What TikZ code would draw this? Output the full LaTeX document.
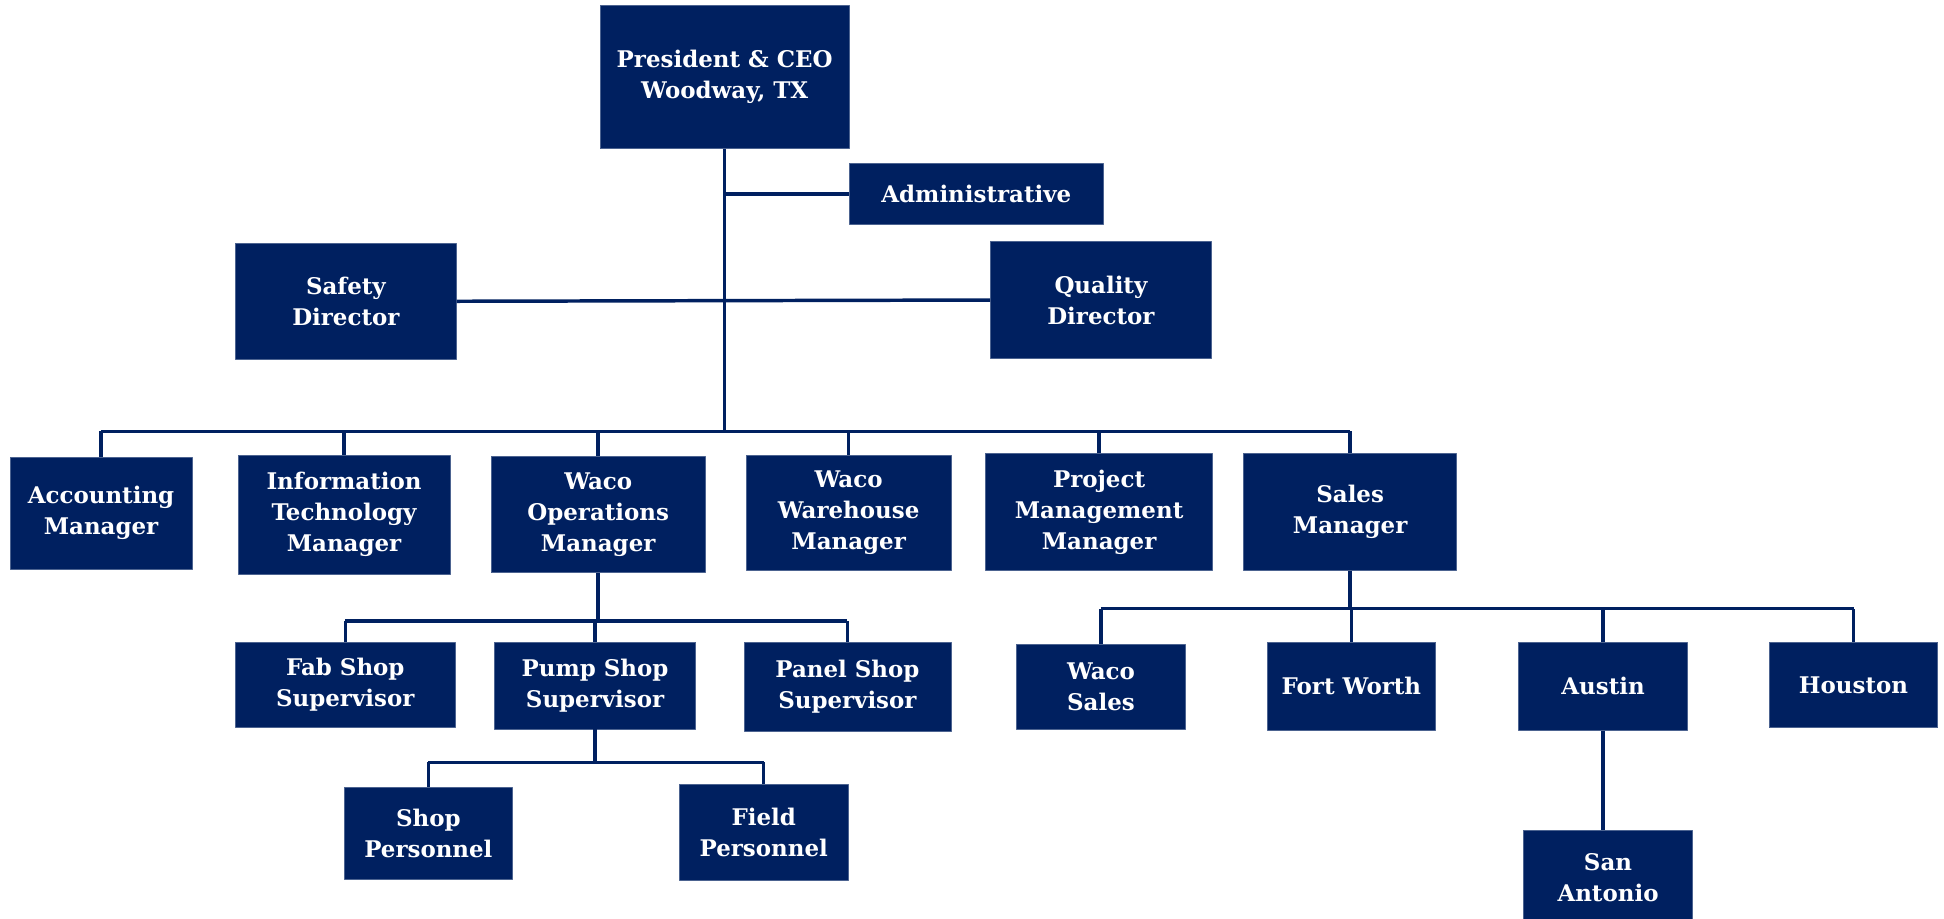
\documentclass[tikz,border=0pt]{standalone}
\usepackage{fontspec}
\setmainfont{DejaVu Serif}
\definecolor{navy}{HTML}{002060}
\tikzset{
  unit/.style={fill=navy, draw=navy!70!white, line width=0.6pt, text=white, align=center,
    inner sep=0pt, font=\fontsize{18.5}{25}\selectfont\bfseries},
  link/.style={draw=navy, line width=2.8pt}
}
\begin{document}
\begin{tikzpicture}[x=1pt, y=-1pt, line join=round]
    \useasboundingbox (0,0) rectangle (1568,741);
    % top
    \node[unit, minimum width=201, minimum height=116] (ceo) at (584.5,62) {President \& CEO\\Woodway, TX};
    \node[unit, minimum width=205, minimum height=49] (adm) at (787.5,156.5) {Administrative};
    \node[unit, minimum width=178, minimum height=94] (safety) at (279,243) {Safety\\Director};
    \node[unit, minimum width=178, minimum height=94] (quality) at (888,242) {Quality\\Director};
    % managers
    \node[unit, minimum width=147, minimum height=90] (acc) at (81.5,414) {Accounting\\Manager};
    \node[unit, minimum width=171, minimum height=96] (it) at (277.5,415) {Information\\Technology\\Manager};
    \node[unit, minimum width=173, minimum height=94] (ops) at (482.5,415) {Waco\\Operations\\Manager};
    \node[unit, minimum width=165, minimum height=93] (wh) at (684.5,413.5) {Waco\\Warehouse\\Manager};
    \node[unit, minimum width=183, minimum height=94] (pm) at (886.5,413) {Project\\Management\\Manager};
    \node[unit, minimum width=172, minimum height=94] (sales) at (1089,413) {Sales\\Manager};
    % shops
    \node[unit, minimum width=177, minimum height=69] (fab) at (278.5,552.5) {Fab Shop\\Supervisor};
    \node[unit, minimum width=162, minimum height=70] (pump) at (480,553) {Pump Shop\\Supervisor};
    \node[unit, minimum width=167, minimum height=72] (panel) at (683.5,554) {Panel Shop\\Supervisor};
    \node[unit, minimum width=135, minimum height=74] (shop) at (345.5,672) {Shop\\Personnel};
    \node[unit, minimum width=136, minimum height=77] (field) at (616,671.5) {Field\\Personnel};
    % sales offices
    \node[unit, minimum width=136, minimum height=68] (wsales) at (888,554) {Waco\\Sales};
    \node[unit, minimum width=136, minimum height=71] (fw) at (1090,553.5) {Fort Worth};
    \node[unit, minimum width=136, minimum height=71] (austin) at (1293,553.5) {Austin};
    \node[unit, minimum width=136, minimum height=69] (houston) at (1495,552.5) {Houston};
    \node[unit, minimum width=136, minimum height=76] (sa) at (1297,708) {San\\Antonio};

    \coordinate (busA) at (0,348);
    \coordinate (busB) at (0,501);
    \coordinate (busC) at (0,615);
    \coordinate (busD) at (0,491);

    \draw[link] (ceo.south) -- (ceo.south |- busA);
    \draw[link] (ceo.south |- adm.west) -- (adm.west);
    \draw[link] (safety.east) -- (quality.west);
    \draw[link] (acc.north |- busA) -- (sales.north |- busA);
    \foreach \m in {acc,it,ops,wh,pm,sales}
        \draw[link] (\m.north) -- (\m.north |- busA);

    \draw[link] (ops.south) -- (ops.south |- busB);
    \draw[link] (fab.north |- busB) -- (panel.north |- busB);
    \foreach \m in {fab,pump,panel}
        \draw[link] (\m.north) -- (\m.north |- busB);

    \draw[link] (pump.south) -- (pump.south |- busC);
    \draw[link] (shop.north |- busC) -- (field.north |- busC);
    \foreach \m in {shop,field}
        \draw[link] (\m.north) -- (\m.north |- busC);

    \draw[link] (sales.south) -- (sales.south |- busD);
    \draw[link] (wsales.north |- busD) -- (houston.north |- busD);
    \foreach \m in {wsales,fw,austin,houston}
        \draw[link] (\m.north) -- (\m.north |- busD);

    \draw[link] (austin.south) -- (austin.south |- sa.north);
\end{tikzpicture}
\end{document}
